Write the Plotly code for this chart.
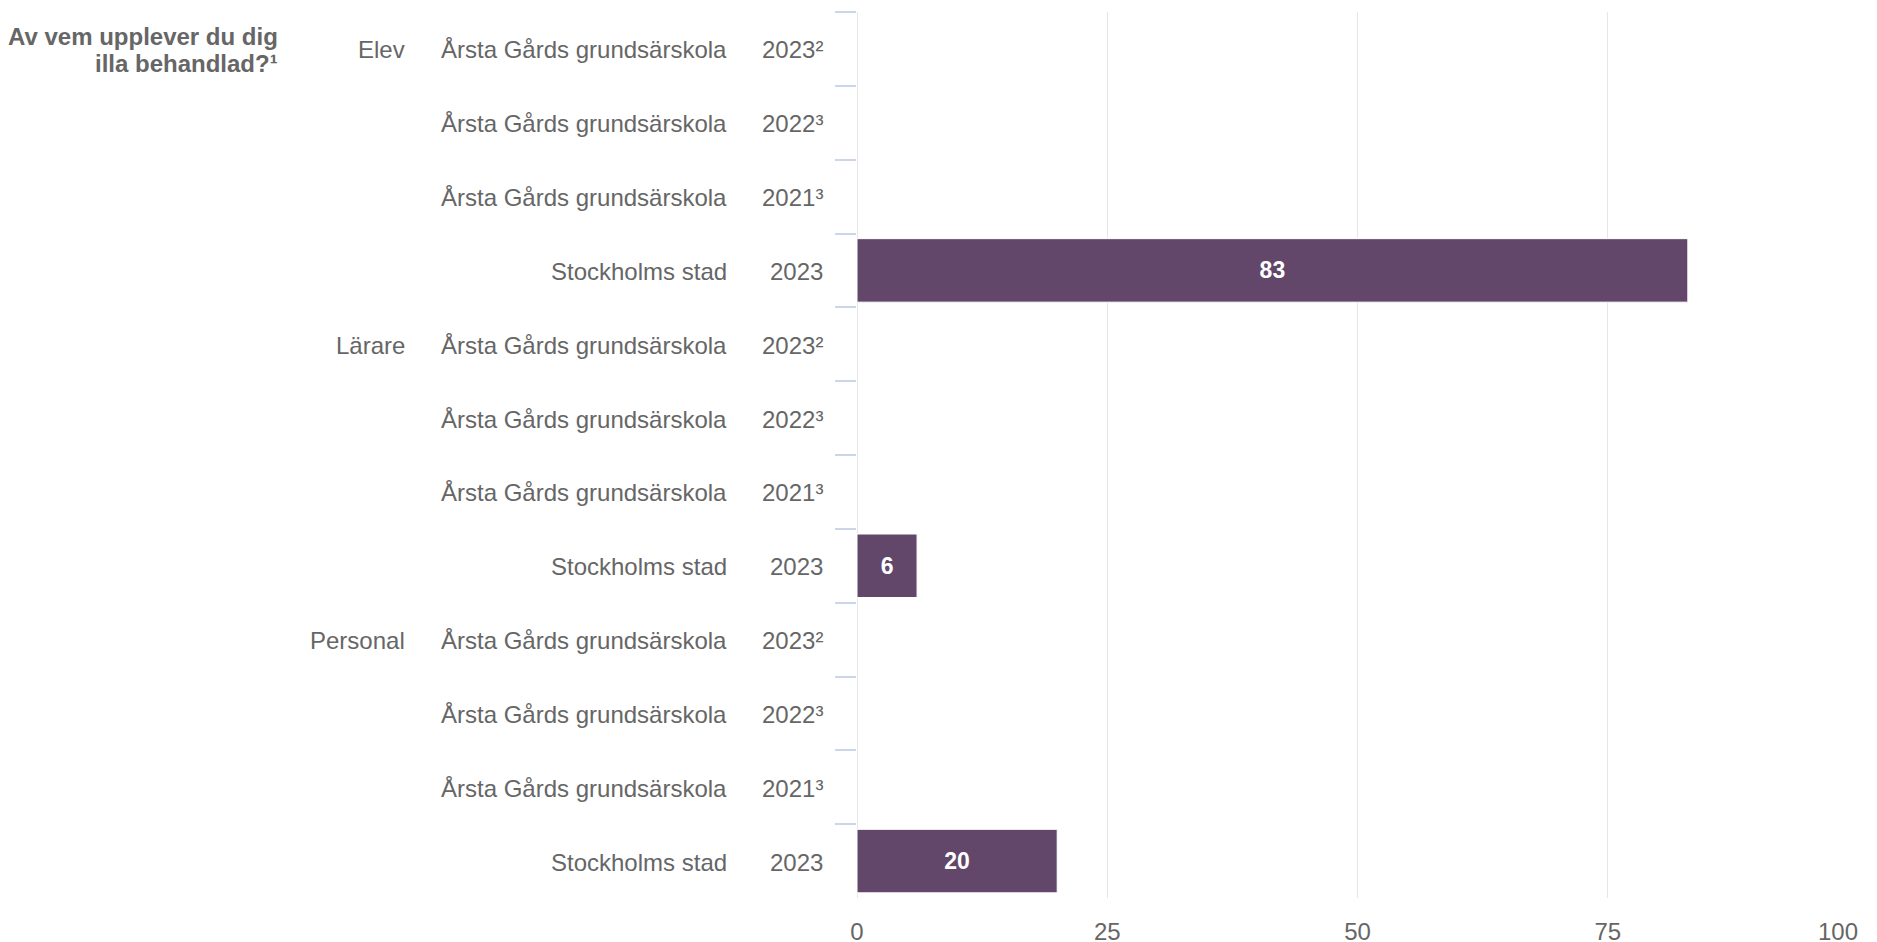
import plotly.graph_objects as go

groups = ["Elev", "", "", "", "Lärare", "", "", "", "Personal", "", "", ""]
units = ["Årsta Gårds grundsärskola", "Årsta Gårds grundsärskola", "Årsta Gårds grundsärskola", "Stockholms stad"] * 3
years = ["2023²", "2022³", "2021³", "2023"] * 3
values = [None, None, None, 83, None, None, None, 6, None, None, None, 20]
x_ticks = [0, 25, 50, 75, 100]
x_tick_text = ["0", "25", "50", "75", "100"]
title_lines = ["Av vem upplever du dig", "illa behandlad?¹"]

W, H = 1877, 942
L, R, T, B = 857, 1858, 12, 898

cats = [f"{i}|{g}|{u}|{y}" for i, (g, u, y) in enumerate(zip(groups, units, years))]

FONT = "Liberation Sans, Arial, sans-serif"
GREY = "#666666"
FS = 24

# last tick label is right-aligned to its gridline (pad with figure spaces)
tick_text = list(x_tick_text)
tick_text[-1] = tick_text[-1] + "\u2007" * len(tick_text[-1])

fig = go.Figure()
fig.add_trace(go.Bar(
    x=values, y=cats, orientation="h",
    marker=dict(color="#62476a", line=dict(color="#ffffff", width=1)),
    width=0.86,
    text=[("" if v is None else f"<b>{v}</b>") for v in values],
    textposition="inside", insidetextanchor="middle", textangle=0,
    textfont=dict(color="#ffffff", size=23, family=FONT),
    hoverinfo="skip",
))

def px_x(p):
    return (p - L) / (R - L)

def px_y(p):
    return 1 - (p - T) / (B - T)

ann = []
for c, g, u, y in zip(cats, groups, units, years):
    for txt, xp in ((g, 407), (u, 729), (y, 825)):
        if txt:
            ann.append(dict(text=txt, x=px_x(xp), xref="paper", y=c, yref="y", yshift=-1,
                            xanchor="right", yanchor="middle", showarrow=False,
                            font=dict(size=FS, color=GREY, family=FONT)))
for txt, yp in zip(title_lines, (36, 63)):
    ann.append(dict(text=f"<b>{txt}</b>", x=px_x(280), xref="paper", y=px_y(yp), yref="paper",
                    xanchor="right", yanchor="middle", showarrow=False,
                    font=dict(size=FS, color=GREY, family=FONT)))

fig.update_layout(
    width=W, height=H,
    margin=dict(l=L, r=W - R, t=T, b=H - B, autoexpand=False),
    plot_bgcolor="#ffffff", paper_bgcolor="#ffffff",
    showlegend=False,
    font=dict(family=FONT, color=GREY, size=FS),
    annotations=ann,
    bargap=0.14,
)
fig.update_xaxes(
    range=[0, 100], tickvals=x_ticks, ticktext=tick_text, showgrid=True,
    gridcolor="#e6e6e6", gridwidth=1,
    zeroline=True, zerolinecolor="#e6e6e6", zerolinewidth=1, showline=False,
    ticks="", ticklabelstandoff=17, ticklabeloverflow="allow",
    tickfont=dict(size=FS, color=GREY, family=FONT),
    fixedrange=True,
)
fig.update_yaxes(
    categoryorder="array", categoryarray=cats, autorange="reversed",
    showticklabels=False, ticks="outside", tickson="boundaries", ticklen=21,
    tickcolor="#ccd6eb", tickwidth=2, showgrid=False, showline=False, zeroline=False,
    fixedrange=True,
)

fig.write_html(
    "out.html",
    config={"displayModeBar": False, "staticPlot": True},
    post_script="document.body.style.margin='0';document.body.style.overflow='hidden';",
)
